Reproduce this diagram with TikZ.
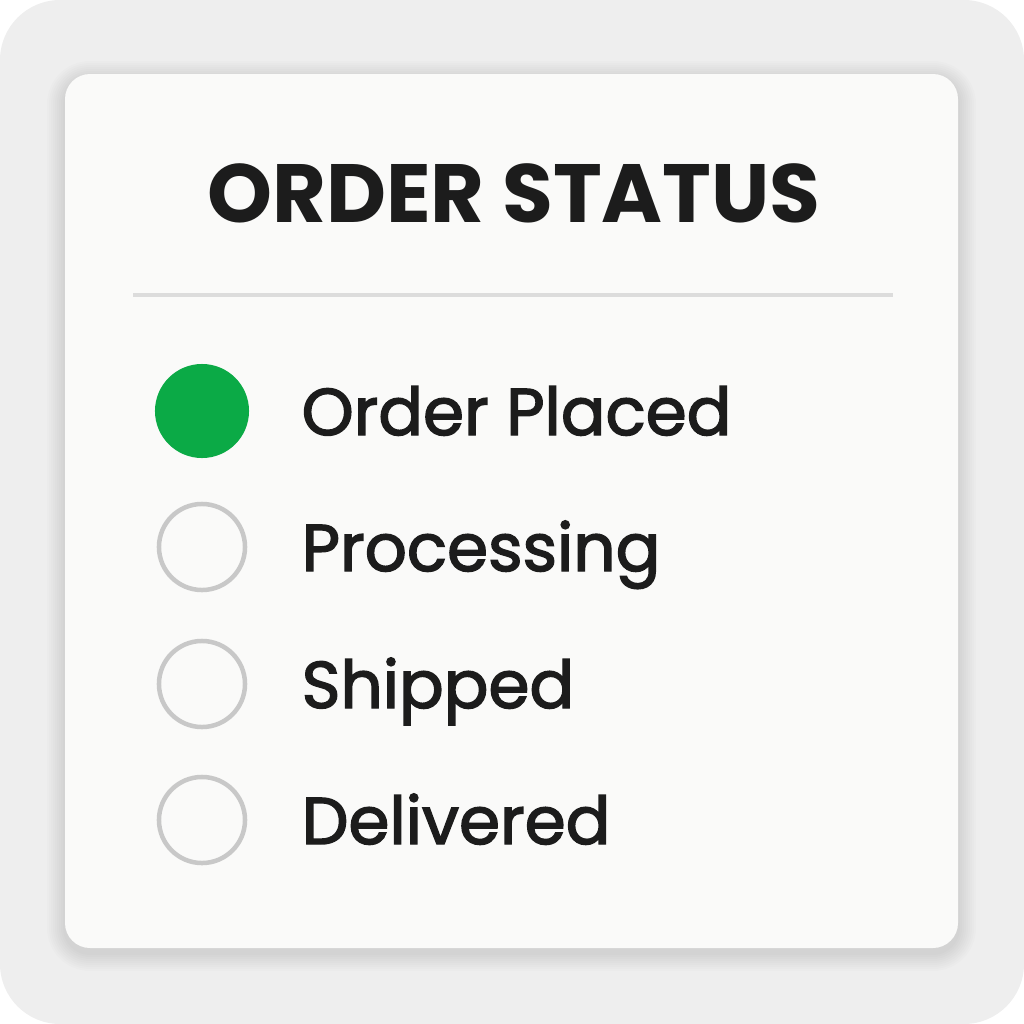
\documentclass[tikz,border=0pt]{standalone}
\usepackage{fontspec}
\setmainfont{Poppins}
\newfontfamily\itemfont{Poppins}[FakeBold=2.2]
\definecolor{pagegrey}{HTML}{EEEEEE}
\definecolor{cardwhite}{HTML}{FAFAF9}
\definecolor{rulegrey}{HTML}{DCDCDC}
\definecolor{ringgrey}{HTML}{C8C8C8}
\definecolor{donegreen}{HTML}{0BAA46}
\definecolor{inkblack}{HTML}{1C1C1C}
\tikzset{
  donedot/.style={circle, fill=donegreen, minimum size=0.94cm, inner sep=0pt},
  opendot/.style={circle, draw=ringgrey, line width=0.045cm, minimum size=0.86cm, inner sep=0pt},
  steplabel/.style={anchor=base west, inner sep=0pt, text=inkblack, font=\itemfont\fontsize{18.8}{23}\selectfont}
}
\begin{document}
\begin{tikzpicture}[x=0.01cm, y=-0.01cm]
    \useasboundingbox (0,0) rectangle (1024,1024);
    \fill[pagegrey, rounded corners=0.6cm] (0,0) rectangle (1024,1024);
    % soft shadow under the card
    \foreach \k in {1,...,9}{
      \fill[black, opacity=0.011, rounded corners=0.25cm+\k*0.02cm]
        (65-\k*2,74-\k*2+5) rectangle (958+\k*2,948+\k*2+5);
    }
    \fill[cardwhite, rounded corners=0.25cm] (65,74) rectangle (958,948);
    \node[inner sep=0pt, anchor=base, text=inkblack, font=\fontsize{23.5}{28}\selectfont\bfseries]
      (title) at (514,222) {ORDER STATUS};
    \coordinate (ruleL) at (133,295);
    \coordinate (ruleR) at (893,295);
    \draw[rulegrey, line width=0.9pt] (ruleL) -- (ruleR);
    \node[donedot] (dot1) at (202,411) {};
    \foreach \i/\y in {2/547,3/684,4/820}{
      \node[opendot] (dot\i) at (202,\y) {};
    }
    \node[steplabel] (step1) at (301,435) {Order Placed};
    \node[steplabel] (step2) at (301,571) {Processing};
    \node[steplabel] (step3) at (301,708) {Shipped};
    \node[steplabel] (step4) at (301,844) {Delivered};
  \end{tikzpicture}
\end{document}
